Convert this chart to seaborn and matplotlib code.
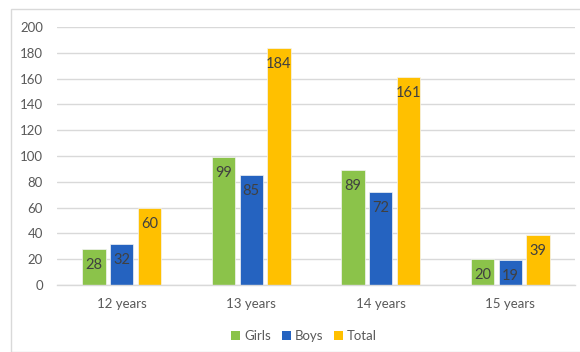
import matplotlib
matplotlib.use("Agg")
import matplotlib.pyplot as plt
import seaborn as sns
import pandas as pd
from matplotlib.patches import Rectangle, Patch

categories = ["12 years", "13 years", "14 years", "15 years"]
girls = [28, 99, 89, 20]
boys = [32, 85, 72, 19]
total = [60, 184, 161, 39]
series_names = ["Girls", "Boys", "Total"]
colors = ["#8BC34A", "#2563C0", "#FFC000"]
yticks = [0, 20, 40, 60, 80, 100, 120, 140, 160, 180, 200]

sns.set_theme(style="white")
plt.rcParams["font.family"] = ["Lato", "DejaVu Sans"]

rows = []
for name, vals in zip(series_names, [girls, boys, total]):
    for c, v in zip(categories, vals):
        rows.append({"Age": c, "Series": name, "Value": v})
df = pd.DataFrame(rows)

fig = plt.figure(figsize=(5.8, 3.52), dpi=100)
ax = fig.add_axes([57/580, 1-285/352, (575-57)/580, (285-27)/352])

sns.barplot(data=df, x="Age", y="Value", hue="Series", order=categories,
            hue_order=series_names, palette=colors, width=0.64, gap=0.15,
            saturation=1, edgecolor="#f4f4f4", linewidth=0.5, ax=ax, legend=False)

for cont in ax.containers:
    for p in cont.patches:
        h = p.get_height()
        ax.annotate(f"{int(round(h))}", (p.get_x() + p.get_width()/2, h),
                    xytext=(0, -11.5), textcoords="offset points",
                    ha="center", va="center", fontsize=10.5, color="#404040")

ax.set_ylim(0, 200)
ax.set_xlim(-0.5, 3.5)
ax.set_yticks(yticks)
ax.set_yticklabels([str(t) for t in yticks])
ax.set_xlabel("")
ax.set_ylabel("")
ax.grid(axis="y", color="#d9d9d9", linewidth=1)
ax.set_axisbelow(True)
for s in ["top", "right", "left"]:
    ax.spines[s].set_visible(False)
ax.spines["bottom"].set_color("#d9d9d9")
ax.spines["bottom"].set_linewidth(1)
ax.tick_params(axis="y", length=0, pad=10, labelsize=9.5, labelcolor="#595959")
ax.tick_params(axis="x", length=0, pad=9, labelsize=9.5, labelcolor="#595959")

handles = [Patch(facecolor=c, edgecolor="none") for c in colors]
fig.legend(handles, series_names, loc="center", bbox_to_anchor=(304/580, 1-336/352),
           ncol=3, frameon=False, fontsize=9.5, handlelength=0.7, handleheight=0.7,
           handletextpad=0.3, columnspacing=0.8, labelcolor="#595959")

fig.patches.append(Rectangle((11/580, 0), 1.2, 1-9/352, transform=fig.transFigure,
                             fill=False, edgecolor="#d9d9d9", linewidth=1))

fig.savefig("out.png", dpi=100)
